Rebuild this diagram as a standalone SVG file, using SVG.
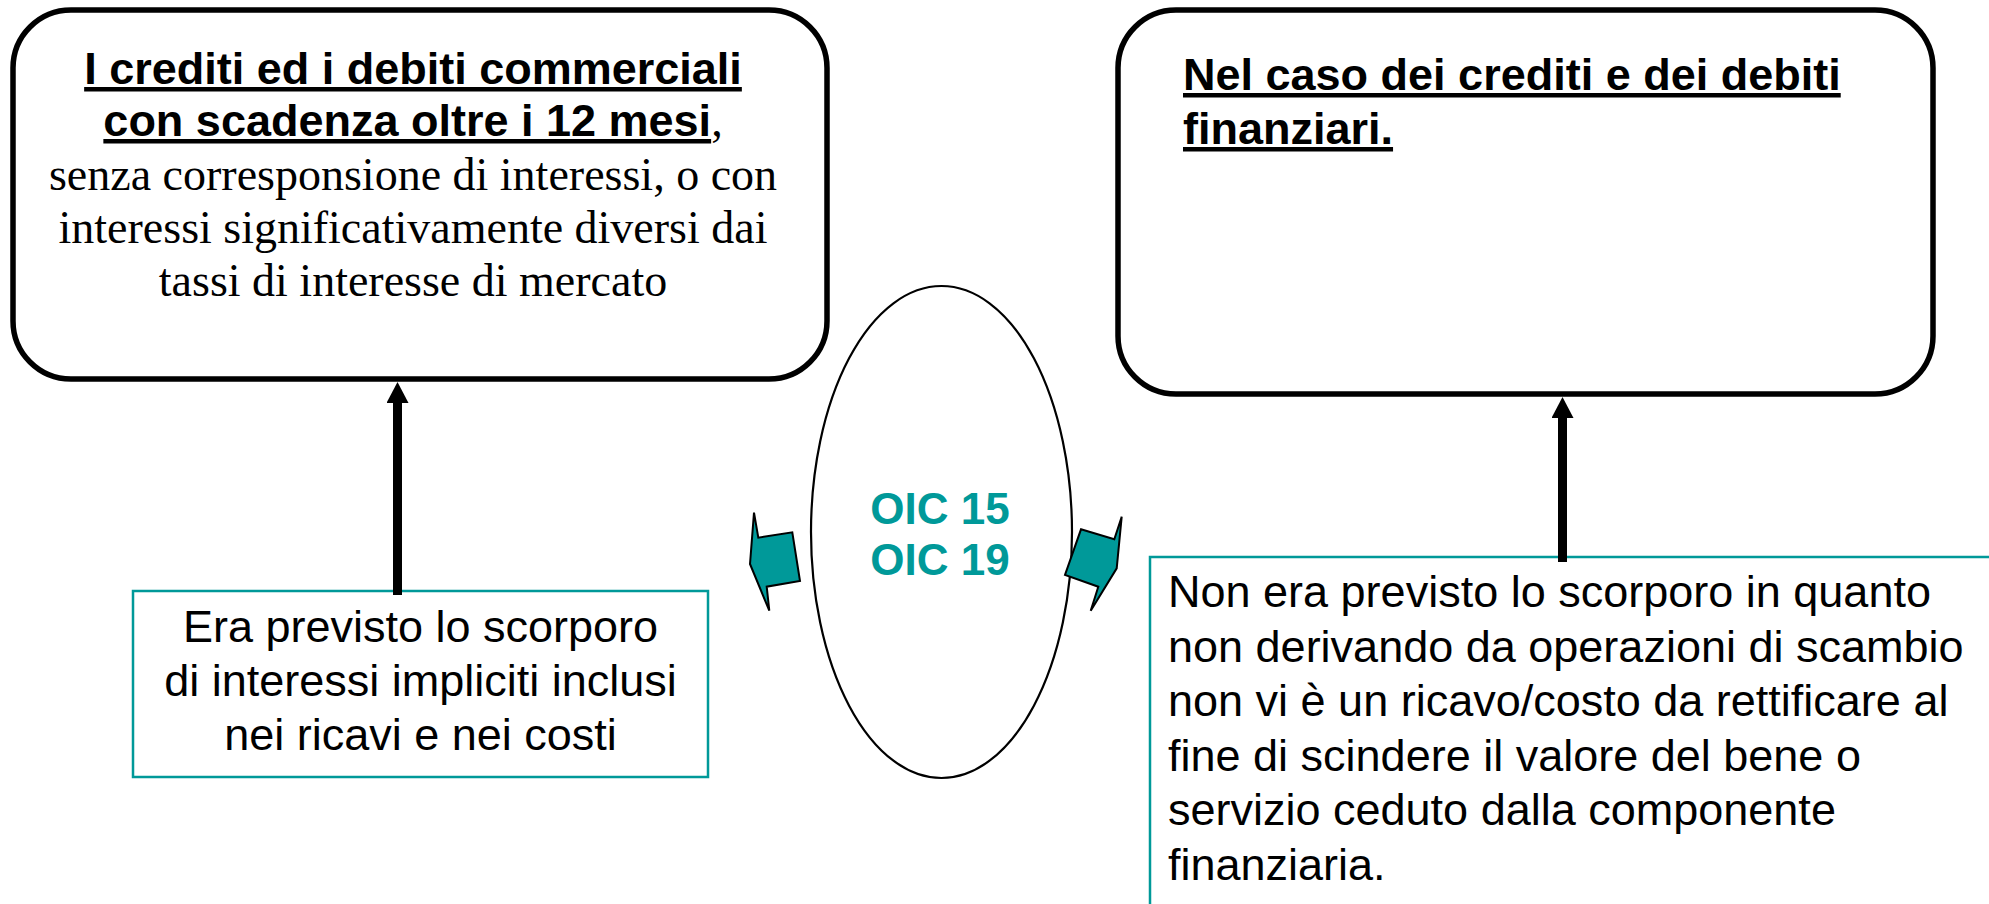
<svg xmlns="http://www.w3.org/2000/svg" width="1989" height="904" viewBox="0 0 1989 904">
<style>
.rbox{fill:#fff;stroke:#000;stroke-width:5.5}
.tbox{fill:#fff;stroke:#009999;stroke-width:2.5}
.hdr{font-family:"Liberation Sans",Arial,sans-serif;font-weight:bold;font-size:45px;fill:#000;text-decoration:underline}
.ser{font-family:"Liberation Serif","Times New Roman",serif;font-size:46px;fill:#000}
.sans{font-family:"Liberation Sans",Arial,sans-serif;font-size:45px;fill:#000}
.oic{font-family:"Liberation Sans",Arial,sans-serif;font-weight:bold;font-size:44px;fill:#009999}
.blk{fill:#009999;stroke:#000;stroke-width:2;stroke-linejoin:miter}
.conn{stroke:#000;stroke-width:9;fill:none}
</style>
<defs>
<marker id="ah" markerUnits="userSpaceOnUse" markerWidth="24" markerHeight="22" refX="0" refY="11.5" orient="auto" viewBox="0 0 22 23">
<path d="M0,0 L22,11.5 L0,23 Z" fill="#000"/>
</marker>
</defs>
<g id="box-commerciali">
<rect class="rbox" x="13" y="10" width="814" height="369" rx="58" ry="58"/>
<text class="hdr" x="413" y="84" text-anchor="middle">I crediti ed i debiti commerciali</text>
<text x="413" y="136" text-anchor="middle"><tspan class="hdr">con scadenza oltre i 12 mesi</tspan><tspan class="ser" style="font-size:46px">,</tspan></text>
<text class="ser" x="413" y="190" text-anchor="middle">senza corresponsione di interessi, o con</text>
<text class="ser" x="413" y="243" text-anchor="middle">interessi significativamente diversi dai</text>
<text class="ser" x="413" y="296" text-anchor="middle">tassi di interesse di mercato</text>
</g>
<g id="box-finanziari">
<rect class="rbox" x="1118" y="10" width="815" height="384" rx="58" ry="58"/>
<text class="hdr" x="1183" y="90">Nel caso dei crediti e dei debiti</text>
<text class="hdr" x="1183" y="144">finanziari.</text>
</g>
<g id="oic">
<ellipse cx="941.5" cy="532" rx="130.5" ry="246" fill="#fff" stroke="#000" stroke-width="2.2"/>
<text class="oic" x="940" y="524" text-anchor="middle">OIC 15</text>
<text class="oic" x="940" y="575" text-anchor="middle">OIC 19</text>
</g>
<g id="arrow-left">
<polygon class="blk" points="750,564 754,512.7 758.3,537.7 792.3,532.3 800,581 766.7,586.7 769.3,610.7"/>
</g>
<g id="arrow-right">
<polygon class="blk" points="1081,529.3 1114.3,539.3 1121.7,516.7 1116.7,568.3 1090.7,610.7 1098.3,586.7 1065,575"/>
</g>
<g id="note-left">
<rect class="tbox" x="133" y="591" width="575" height="186"/>
<text class="sans" x="420.5" y="642" text-anchor="middle">Era previsto lo scorporo</text>
<text class="sans" x="420.5" y="696" text-anchor="middle">di interessi impliciti inclusi</text>
<text class="sans" x="420.5" y="750" text-anchor="middle">nei ricavi e nei costi</text>
</g>
<g id="note-right">
<rect class="tbox" x="1150" y="557" width="900" height="420"/>
<text class="sans" x="1168" y="607">Non era previsto lo scorporo in quanto</text>
<text class="sans" x="1168" y="661.5">non derivando da operazioni di scambio</text>
<text class="sans" x="1168" y="716">non vi è un ricavo/costo da rettificare al</text>
<text class="sans" x="1168" y="770.5">fine di scindere il valore del bene o</text>
<text class="sans" x="1168" y="825">servizio ceduto dalla componente</text>
<text class="sans" x="1168" y="879.5">finanziaria.</text>
</g>
<g id="connectors">
<line class="conn" x1="397.5" y1="595" x2="397.5" y2="403" marker-end="url(#ah)"/>
<line class="conn" x1="1562.5" y1="562" x2="1562.5" y2="418" marker-end="url(#ah)"/>
</g>
</svg>
